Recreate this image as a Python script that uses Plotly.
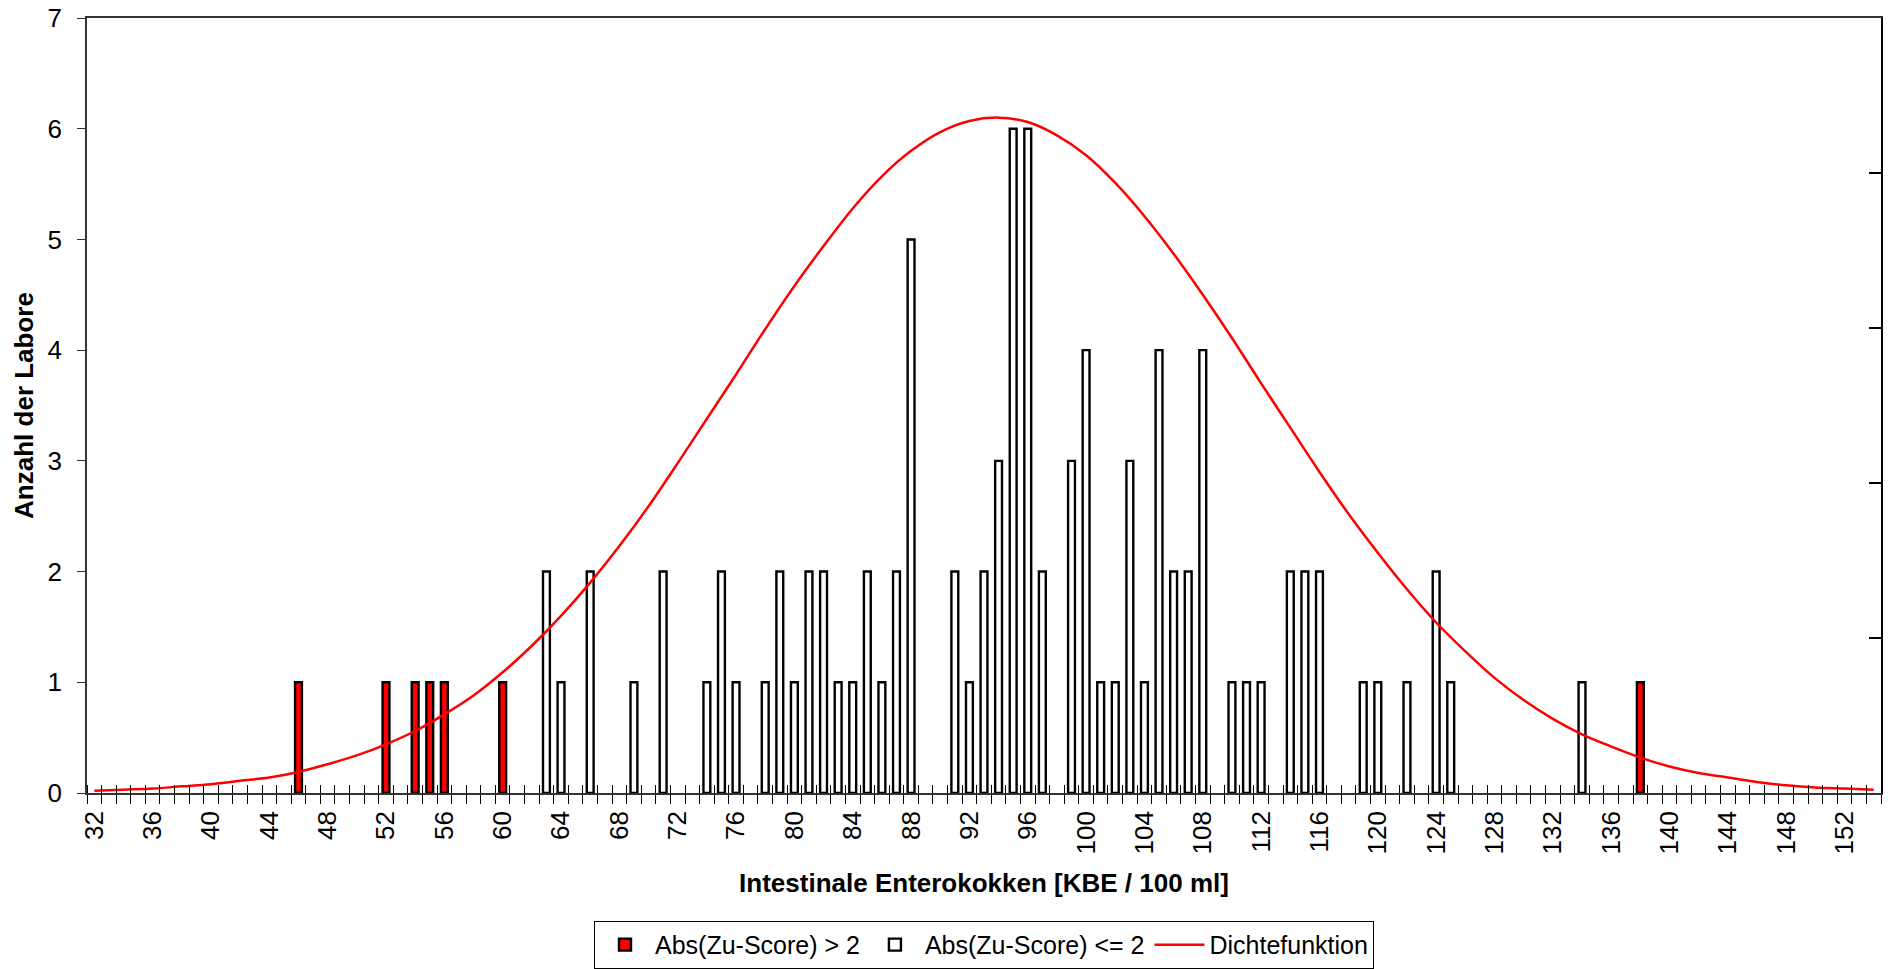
import plotly.graph_objects as go

# --- data ---
red_x = [46, 52, 54, 55, 56, 60, 138]
red_y = [1, 1, 1, 1, 1, 1, 1]

white_x = [63, 64, 66, 69, 71, 74, 75, 76, 78, 79, 80, 81, 82, 83, 84, 85, 86, 87, 88,
           91, 92, 93, 94, 95, 96, 97, 99, 100, 101, 102, 103, 104, 105, 106, 107, 108,
           110, 111, 112, 114, 115, 116, 119, 120, 122, 124, 125, 134]
white_y = [2, 1, 2, 1, 2, 1, 2, 1, 1, 2, 1, 2, 2, 1, 1, 2, 1, 2, 5,
           2, 1, 2, 3, 6, 6, 2, 3, 4, 1, 1, 3, 1, 4, 2, 2, 4,
           1, 1, 1, 2, 2, 2, 1, 1, 1, 2, 1, 1]

curve_x = [32, 34, 36, 38, 40, 42, 44, 46, 48, 50, 52, 54, 56, 58, 60, 62, 64, 66, 68,
           70, 72, 74, 76, 78, 80, 82, 84, 86, 88, 90, 92, 94, 96, 98, 100, 102, 104,
           106, 108, 110, 112, 114, 116, 118, 120, 122, 124, 126, 128, 130, 132, 134,
           136, 138, 140, 142, 144, 146, 148, 150, 152, 154]
curve_y = [0.02, 0.03, 0.04, 0.06, 0.08, 0.11, 0.14, 0.19, 0.26, 0.34, 0.44, 0.56, 0.71,
           0.88, 1.09, 1.33, 1.60, 1.90, 2.23, 2.59, 2.98, 3.38, 3.78, 4.19, 4.58, 4.94,
           5.28, 5.57, 5.80, 5.97, 6.07, 6.10, 6.06, 5.94, 5.76, 5.51, 5.21, 4.87, 4.50,
           4.11, 3.70, 3.30, 2.90, 2.52, 2.17, 1.84, 1.54, 1.28, 1.04, 0.84, 0.67, 0.53,
           0.42, 0.32, 0.24, 0.18, 0.14, 0.10, 0.07, 0.05, 0.04, 0.03]

x_tick_vals = list(range(32, 153, 4))
x_tick_text = [str(v) for v in x_tick_vals]
y_ticks = [0, 1, 2, 3, 4, 5, 6, 7]

X_MIN, X_MAX = 31.5, 154.5
boundaries = [X_MIN + i for i in range(int(X_MAX - X_MIN) + 1)]

FONT = "Liberation Sans, Arial, sans-serif"
AXC = "#333333"
FS = 26

fig = go.Figure()
fig.add_trace(go.Bar(
    x=red_x, y=red_y, name="Abs(Zu-Score) > 2", width=0.47,
    marker=dict(color="#FF0000", line=dict(color="black", width=2.4)),
    xaxis="x", yaxis="y"))
fig.add_trace(go.Bar(
    x=white_x, y=white_y, name="Abs(Zu-Score) <= 2", width=0.47,
    marker=dict(color="white", line=dict(color="black", width=2.4)),
    xaxis="x", yaxis="y"))
fig.add_trace(go.Scatter(
    x=curve_x, y=curve_y, name="Dichtefunktion", mode="lines",
    line=dict(color="#FF0000", width=2.5, shape="spline"),
    xaxis="x2", yaxis="y2"))

fig.update_layout(
    width=1894, height=969,
    margin=dict(l=87, r=13, t=18, b=176, autoexpand=False),
    paper_bgcolor="white", plot_bgcolor="white",
    barmode="overlay",
    font=dict(family=FONT, size=FS, color="black"),
    showlegend=True,
    legend=dict(orientation="h", x=0.5, xanchor="center", y=-0.165, yanchor="top",
                bordercolor="black", borderwidth=1, font=dict(size=25),
                traceorder="normal", itemwidth=50, tracegroupgap=0),
    xaxis=dict(
        range=[X_MIN, X_MAX], tickmode="array", tickvals=x_tick_vals, ticktext=x_tick_text,
        tickangle=-90, ticks="", showgrid=False, zeroline=False, automargin=False,
        showline=True, linecolor=AXC, linewidth=1.5, mirror=True,
        tickfont=dict(size=FS), ticklabelstandoff=6,
        minor=dict(tickmode="array", tickvals=boundaries, ticks="outside", ticklen=9,
                   tickcolor="black", tickwidth=1, showgrid=False),
        title=dict(text="<b>Intestinale Enterokokken [KBE / 100 ml]</b>",
                   font=dict(size=FS), standoff=20),
    ),
    xaxis2=dict(
        range=[X_MIN, X_MAX], overlaying="x", anchor="y2", showticklabels=False,
        ticks="", showgrid=False, zeroline=False, showline=False, automargin=False,
        minor=dict(tickmode="array", tickvals=boundaries, ticks="inside", ticklen=8,
                   tickcolor="black", tickwidth=1, showgrid=False),
    ),
    yaxis=dict(
        range=[0, 7], tickmode="array", tickvals=y_ticks, ticks="outside", ticklen=8,
        tickcolor=AXC, showgrid=False, zeroline=False, automargin=False,
        showline=True, linecolor=AXC, linewidth=1.5, tickfont=dict(size=FS),
        ticklabelstandoff=10,
        title=dict(text="<b>Anzahl der Labore</b>", font=dict(size=FS), standoff=6),
    ),
    yaxis2=dict(
        range=[0, 7], overlaying="y", side="right", anchor="x2", automargin=False,
        tickmode="array", tickvals=[0, 1.4, 2.8, 4.2, 5.6, 7], ticks="inside", ticklen=12,
        tickcolor="black", tickwidth=1.5, showticklabels=False, showgrid=False,
        zeroline=False, showline=True, linecolor="black", linewidth=2,
    ),
)

# remove the default 8px body margin so the figure fills the window exactly
fig.write_html("out.html", config={"displayModeBar": False},
               post_script="document.body.style.margin='0';")
